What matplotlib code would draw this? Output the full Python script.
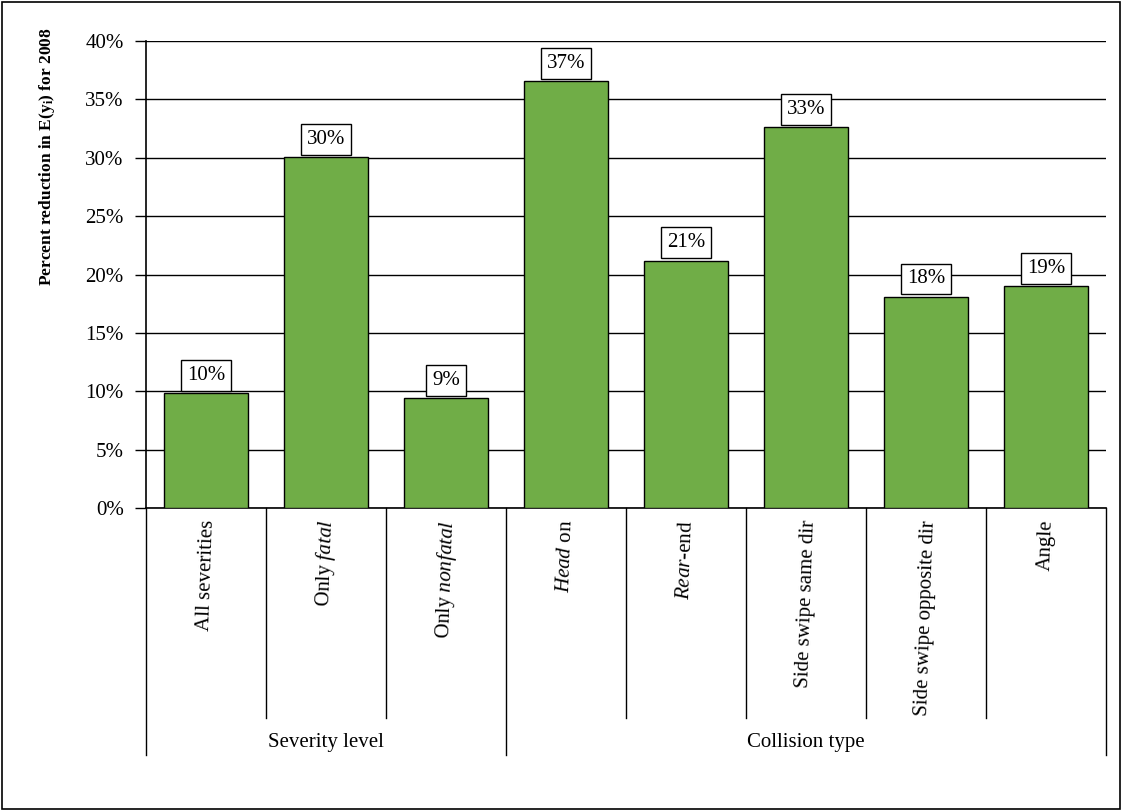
import matplotlib
matplotlib.use("Agg")
import matplotlib.pyplot as plt
from matplotlib.patches import Rectangle
from matplotlib.transforms import blended_transform_factory

plt.rcParams['font.family'] = ['Liberation Serif', 'DejaVu Serif']
plt.rcParams['mathtext.fontset'] = 'custom'
plt.rcParams['mathtext.rm'] = 'Liberation Serif'
plt.rcParams['mathtext.it'] = 'Liberation Serif:italic'
plt.rcParams['mathtext.bf'] = 'Liberation Serif:bold'

categories = [
    "All severities",
    r"Only $\it{fatal}$",
    r"Only $\it{nonfatal}$",
    r"$\it{Head}$ on",
    r"$\it{Rear}$-end",
    "Side swipe same dir",
    "Side swipe opposite dir",
    "Angle",
]
values = [9.85, 30.05, 9.4, 36.55, 21.2, 32.6, 18.1, 19.0]
labels = ["10%", "30%", "9%", "37%", "21%", "33%", "18%", "19%"]
groups = ["Severity level", "Collision type"]
group_spans = [(0, 2), (3, 7)]
yticks = [0, 5, 10, 15, 20, 25, 30, 35, 40]

FS = 15

fig = plt.figure(figsize=(11.22, 8.11), dpi=100)
fig.patches.append(Rectangle((0.002, 0.003), 0.996, 0.994, transform=fig.transFigure,
                             fill=False, edgecolor='black', linewidth=1.2))
ax = fig.add_axes([0.1301, 0.3736, 0.8556, 0.5758])

x = list(range(len(categories)))
ax.bar(x, values, width=0.7, color='#70AD47', edgecolor='black', linewidth=1.0, zorder=3)

for xi, v, lab in zip(x, values, labels):
    ax.annotate(lab, (xi, v), xytext=(0, 6), textcoords='offset points',
                ha='center', va='bottom', fontsize=FS,
                bbox=dict(boxstyle='square,pad=0.28', facecolor='white',
                          edgecolor='black', linewidth=1.0), zorder=4)

ax.set_xlim(-0.5, len(categories) - 0.5)
ax.set_ylim(0, 40)
ax.set_yticks(yticks)
ax.set_yticklabels([f"{t}%" for t in yticks], fontsize=FS)
ax.yaxis.grid(True, color='black', linewidth=1.0, zorder=0)
ax.set_axisbelow(True)
ax.tick_params(axis='y', direction='out', length=8, width=1, pad=8)
ax.set_xticks([])
for side in ('top', 'right'):
    ax.spines[side].set_visible(False)
ax.spines['left'].set_linewidth(1.2)
ax.spines['bottom'].set_linewidth(1.2)

ax.set_ylabel(r"Percent reduction in E(y$_{\mathbf{i}}$) for 2008", fontsize=12.5,
              fontweight='bold')
ax.yaxis.set_label_coords(-0.093, 0.752)

trans = blended_transform_factory(ax.transData, ax.transAxes)
cat_bottom = -0.4497
group_bottom = -0.529
group_ends = {-0.5, 2.5, len(categories) - 0.5}
for k in range(len(categories) + 1):
    xd = k - 0.5
    yb = group_bottom if xd in group_ends else cat_bottom
    ax.plot([xd, xd], [0, yb], transform=trans, color='black', linewidth=1.0,
            clip_on=False)

for xi, cat in zip(x, categories):
    ax.text(xi, -0.025, cat, transform=trans, rotation=88, ha='center', va='top',
            fontsize=FS)

for name, (a, b) in zip(groups, group_spans):
    ax.text((a + b) / 2, -0.503, name, transform=trans, ha='center', va='center',
            fontsize=FS)

fig.savefig("out.png", dpi=100)
